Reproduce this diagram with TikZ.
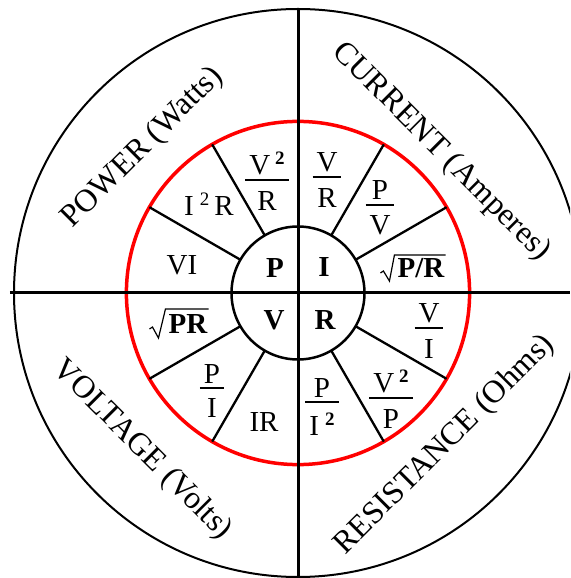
\documentclass[tikz,border=0pt]{standalone}
\usepackage{fontspec}
\setmainfont{Liberation Serif}
\usetikzlibrary{calc}
\newcommand\fr[2]{\vbox{\offinterlineskip\halign{\hfil##\hfil\cr\kern4pt#1\kern4pt\cr\noalign{\kern4pt\hrule height 2pt\kern10pt}\kern4pt#2\kern4pt\cr}}}
\newcommand\sqb{\raisebox{10pt}{\fontsize{19}{19}\selectfont\bfseries 2}}
\newcommand\sqr{\raisebox{10pt}{\fontsize{19}{19}\selectfont 2}}
\tikzset{
  outerlbl/.style={font=\fontsize{32}{36}\selectfont, inner sep=0pt},
  cell/.style={font=\fontsize{29}{33}\selectfont, inner sep=0pt},
  ctr/.style={font=\fontsize{29}{33}\selectfont\bfseries, inner sep=0pt},
  rad/.style={font=\fontsize{29}{33}\selectfont\bfseries, inner sep=0pt, anchor=base},
  radsign/.style={line width=1.2pt, line join=miter},
  spoke/.style={line width=2.3pt},
  axis/.style={line width=3pt},
}
\begin{document}
\begin{tikzpicture}[x=1pt,y=1pt]
\useasboundingbox (-298,-285) rectangle (272,293);
\clip (-298,-285) rectangle (272,293);
\fill[white] (-298,-285) rectangle (272,293);
% circles
\draw[line width=2pt] (0,0) circle (284);
\draw[red, line width=3.5pt] (0,0) circle (171.6);
\draw[line width=2.5pt, fill=white] (0,0) circle (66.5);
% spokes
\foreach \a in {30,60,120,150,210,240,300,330}
  \draw[spoke] (\a:66.5) -- (\a:171.6);
% axes
\coordinate (L) at (-288,0);
\coordinate (Rr) at (272,0);
\coordinate (T) at (0,284);
\coordinate (B) at (0,-285);
\draw[axis] (L) -- (Rr);
\draw[axis] (T) -- (B);
% outer labels
\node[outerlbl, rotate=45] (pow) at (-155,145) {POWER (Watts)};
\node[outerlbl, rotate=-45] (cur) at (143,141) {CURRENT (Amperes)};
\node[outerlbl, rotate=-45] (vol) at (-156,-157) {VOLTAGE (Volts)};
\node[outerlbl, rotate=45] (res) at (147,-152) {RESISTANCE (Ohms)};
% centre letters
\node[ctr] (cP) at (-23,25) {P};
\node[ctr] (cI) at (26,26) {I};
\node[ctr] (cV) at (-24,-27) {V};
\node[ctr] (cR) at (27,-27) {R};
% cells
\node[cell] (vi) at (-116,28) {VI};
\node[cell] (i2r) at (-89,89) {I\hspace{6pt}\sqr\hspace{5pt}R};
\node[cell] (v2r) at (-31,112) {\fr{V\hspace{5pt}\sqb}{R}};
\node[cell] (vr) at (29,113) {\fr{V}{R}};
\node[cell] (pv) at (82,85) {\fr{P}{V}};
\node[rad] (spr) at (123,15) {P/R};
\draw[radsign] ($(spr.base west)+(-17,5)$) -- ++(3,2) -- ($(spr.base west)+(-8,-3)$) -- ($(spr.base west)+(-3,23)$) -- ($(spr.base east)+(1,23)$);
\node[cell] (vi2) at (131,-38) {\fr{V}{I}};
\node[cell] (v2p) at (93,-106) {\fr{V\hspace{5pt}\sqb}{P}};
\node[cell] (pi2) at (24,-114) {\fr{P}{I\hspace{6pt}\sqb}};
\node[cell] (ir) at (-34,-129) {IR};
\node[cell] (pi) at (-86,-98) {\fr{P}{I}};
\node[rad] (spr2) at (-110,-41) {PR};
\draw[radsign] ($(spr2.base west)+(-19,5)$) -- ++(3,2) -- ($(spr2.base west)+(-10,-4)$) -- ($(spr2.base west)+(-3,25)$) -- ($(spr2.base east)+(1,25)$);
\end{tikzpicture}
\end{document}
